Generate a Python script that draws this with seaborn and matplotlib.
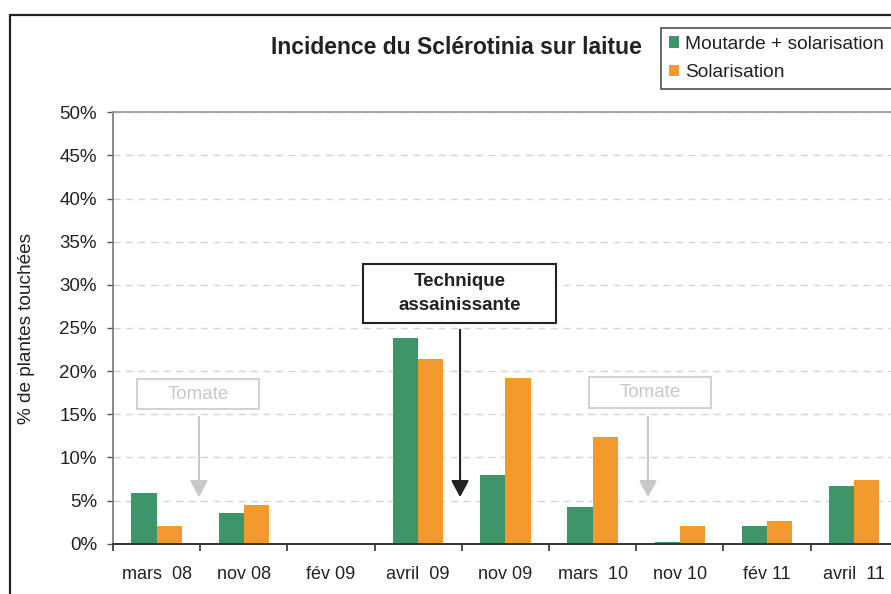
"""Incidence du Sclérotinia sur laitue - bar chart recreation."""

import matplotlib
matplotlib.use("Agg")
import matplotlib.pyplot as plt
from matplotlib.patches import Rectangle, FancyArrowPatch
import pandas as pd
import seaborn as sns

# data (percent of affected plants)
periods = ["mars  08", "nov 08", "fév 09", "avril  09", "nov 09",
           "mars  10", "nov 10", "fév 11", "avril  11"]
moutarde_solar = [5.9, 3.6, 0.0, 23.8, 8.0, 4.2, 0.15, 2.0, 6.7]
solarisation = [2.0, 4.5, 0.0, 21.4, 19.2, 12.4, 2.0, 2.6, 7.4]
series_names = ["Moutarde + solarisation", "Solarisation"]
colors = ["#3e9668", "#f39a2e"]
y_ticks = [0, 5, 10, 15, 20, 25, 30, 35, 40, 45, 50]

df = pd.DataFrame({
    "period": periods * 2,
    "value": moutarde_solar + solarisation,
    "serie": [series_names[0]] * len(periods) + [series_names[1]] * len(periods),
})

sns.set_style("white")
plt.rcParams["font.family"] = ["Liberation Sans", "DejaVu Sans"]

fig = plt.figure(figsize=(8.91, 5.94), dpi=100)
ax = fig.add_axes([113 / 891, 50.3 / 594, 784.8 / 891, 431.4 / 594])

sns.barplot(data=df, x="period", y="value", hue="serie", palette=colors,
            width=0.58, saturation=1, linewidth=0, ax=ax, legend=True, order=periods)

ax.set_xlim(-0.5, len(periods) - 0.5)
ax.set_ylim(0, 50)
ax.set_xlabel("")
ax.set_ylabel("")

# y axis
ax.set_yticks(y_ticks)
ax.set_yticklabels([f"{v}%" for v in y_ticks], fontsize=13.5, color="#222222")
ax.tick_params(axis="y", which="major", length=4.5, width=1, color="#555555",
               pad=7, left=True, direction="out")
ax.yaxis.grid(True, color="#d4d4d4", linestyle=(0, (5, 4)), linewidth=1)
ax.set_axisbelow(True)

# x axis: labels centered, ticks at boundaries
ax.set_xticks(range(len(periods)))
ax.set_xticklabels(periods, fontsize=13, color="#222222")
ax.set_xticks([i - 0.5 for i in range(len(periods) + 1)], minor=True)
ax.tick_params(axis="x", which="major", length=0, pad=16)
ax.tick_params(axis="x", which="minor", length=5, width=1.2,
               color="#333333", bottom=True, direction="out")

for side in ["left", "top", "bottom", "right"]:
    ax.spines[side].set_visible(True)
ax.spines["left"].set_color("#777777")
ax.spines["left"].set_linewidth(1.2)
ax.spines["top"].set_color("#999999")
ax.spines["top"].set_linewidth(1.2)
ax.spines["bottom"].set_color("#333333")
ax.spines["bottom"].set_linewidth(1.4)
ax.spines["right"].set_visible(False)

# annotations
def note_box(x0, x1, y0, y1, text, ec, tc, bold=False, size=13.5):
    ax.add_patch(Rectangle((x0, y0), x1 - x0, y1 - y0, fill=True, fc="white",
                           ec=ec, lw=1.5, zorder=4, clip_on=False))
    ax.text((x0 + x1) / 2, (y0 + y1) / 2, text, ha="center", va="center",
            color=tc, fontsize=size, fontweight="bold" if bold else "normal",
            linespacing=1.6, zorder=5)


def note_arrow(x, y_start, y_end, color):
    ax.add_patch(FancyArrowPatch((x, y_start), (x, y_end),
                                 arrowstyle="-|>,head_length=0.5,head_width=0.27",
                                 mutation_scale=20, color=color, lw=1.5,
                                 shrinkA=0, shrinkB=0, zorder=5))


note_box(2.367, 4.58, 25.6, 32.4, "Technique\nassainissante", "#222222", "#222222",
         bold=True, size=13.5)
note_arrow(3.48, 24.8, 5.4, "#222222")

note_box(-0.22, 1.17, 15.6, 19.1, "Tomate", "#d2d2d2", "#c8c8c8")
note_arrow(0.486, 14.7, 5.4, "#c8c8c8")

note_box(4.96, 6.36, 15.7, 19.3, "Tomate", "#d2d2d2", "#c8c8c8")
note_arrow(5.635, 14.7, 5.4, "#c8c8c8")

# title, y label
fig.text(456 / 891, 1 - 48 / 594, "Incidence du Sclérotinia sur laitue",
         ha="center", va="center", fontsize=16.5, fontweight="bold", color="#222222")
fig.text(27 / 891, 1 - 328 / 594, "% de plantes touchées", rotation=90,
         ha="center", va="center", fontsize=13.7, color="#222222")

# legend
handles, labels = ax.get_legend_handles_labels()
ax.legend_.remove()
leg = fig.legend(handles, labels, loc="upper left",
                 bbox_to_anchor=(661 / 891, 1 - 28 / 594), bbox_transform=fig.transFigure,
                 fontsize=13.8, frameon=True, fancybox=False, edgecolor="#222222",
                 handlelength=0.55, handleheight=0.55, handletextpad=0.3,
                 labelspacing=0.6, borderpad=0.4, borderaxespad=0)
leg.get_frame().set_linewidth(1.2)
for t in leg.get_texts():
    t.set_color("#222222")

# outer chart frame
fig.add_artist(Rectangle((10 / 891, -0.1), 2, 1 - 15 / 594 + 0.1, fill=False,
                         ec="#222222", lw=1.6, transform=fig.transFigure))

fig.savefig("out.png", dpi=100)
